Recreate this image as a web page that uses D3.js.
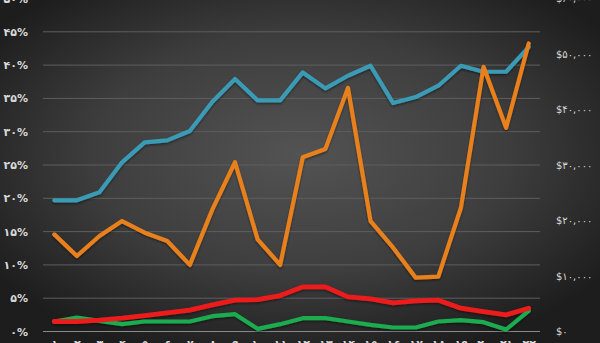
<!DOCTYPE html>
<html>
<head>
<meta charset="utf-8">
<script src="https://cdn.jsdelivr.net/npm/d3@7"></script>
<style>
  html, body { margin: 0; padding: 0; background: #222; }
  svg { display: block; }
</style>
</head>
<body>
<svg id="chart" width="600" height="343"></svg>
<script>
const categories = ["۱","۲","۳","۴","۵","۶","۷","۸","۹","۱۰","۱۱","۱۲","۱۳","۱۴","۱۵","۱۶","۱۷","۱۸","۱۹","۲۰","۲۱","۲۲"];
// left axis (percent)
const blueSeries  = [19.7,19.7,20.9,25.4,28.4,28.7,30.1,34.5,37.9,34.7,34.7,38.9,36.5,38.4,39.9,34.3,35.2,36.9,39.9,39.0,39.0,42.7];
const redSeries   = [1.5,1.5,1.7,2.0,2.4,2.8,3.2,4.0,4.7,4.8,5.4,6.7,6.7,5.2,4.9,4.3,4.6,4.7,3.5,3.0,2.5,3.5];
const greenSeries = [1.5,2.1,1.6,1.1,1.5,1.5,1.5,2.3,2.6,0.4,1.1,2.0,2.0,1.5,1.0,0.6,0.6,1.5,1.7,1.4,0.3,3.1];
// right axis (dollars)
const orangeSeries = [17500,13600,17200,19900,17800,16300,12000,22000,30500,16600,12000,31400,32900,43900,19900,15100,9700,9900,22300,47700,36700,51900];

const leftTicks = [0,5,10,15,20,25,30,35,40,45,50];
const rightTicks = [0,10000,20000,30000,40000,50000,60000];

const fa = s => String(s).replace(/\d/g, d => "۰۱۲۳۴۵۶۷۸۹"[+d]);

const svg = d3.select("#chart");
const W = 600, H = 343;
const plot = {left: 43, right: 540, top: -1.5, bottom: 331.5};

// background
const defs = svg.append("defs");
const rg = defs.append("radialGradient").attr("id","bg")
  .attr("cx","50%").attr("cy","45%").attr("r","62%");
rg.append("stop").attr("offset","0%").attr("stop-color","#535353");
rg.append("stop").attr("offset","55%").attr("stop-color","#3e3e3e");
rg.append("stop").attr("offset","100%").attr("stop-color","#1d1d1d");
svg.append("rect").attr("width",W).attr("height",H).attr("fill","url(#bg)");

const filt = defs.append("filter").attr("id","sh").attr("x","-5%").attr("y","-5%").attr("width","110%").attr("height","120%");
filt.append("feDropShadow").attr("dx",0).attr("dy",1.5).attr("stdDeviation",1.2).attr("flood-color","#000").attr("flood-opacity",0.45);

const x = d3.scalePoint().domain(categories).range([plot.left, plot.right]).padding(0.5);
const yL = d3.scaleLinear().domain([0,50]).range([plot.bottom, plot.top]);
const yR = d3.scaleLinear().domain([0,60000]).range([plot.bottom, plot.top]);

// gridlines
svg.append("g").selectAll("line").data(leftTicks.filter(d => d > 0)).join("line")
  .attr("x1", plot.left).attr("x2", plot.right)
  .attr("y1", d => yL(d)).attr("y2", d => yL(d))
  .attr("stroke", "#5e5e5e").attr("stroke-width", 1);
svg.append("line").attr("x1", plot.left).attr("x2", plot.right)
  .attr("y1", yL(0)).attr("y2", yL(0)).attr("stroke", "#8a8a8a").attr("stroke-width", 1.2);

// axes
const axL = svg.append("g").attr("transform", `translate(${plot.left},0)`)
  .call(d3.axisLeft(yL).tickValues(leftTicks).tickSize(0).tickPadding(15).tickFormat(d => fa(d) + "%"));
axL.select(".domain").remove();
const axR = svg.append("g").attr("transform", `translate(${plot.right},0)`)
  .call(d3.axisRight(yR).tickValues(rightTicks).tickSize(0).tickPadding(16).tickFormat(d => "$" + fa(d3.format(",")(d))));
axR.select(".domain").remove();
const axB = svg.append("g").attr("transform", `translate(0,${plot.bottom})`)
  .call(d3.axisBottom(x).tickSize(0).tickPadding(9));
axB.select(".domain").remove();
svg.selectAll(".tick text").attr("fill", "#d8d8d8")
  .attr("font-family", "'DejaVu Sans', sans-serif").attr("font-weight", "bold").attr("font-size", 11);
axR.selectAll(".tick text").attr("font-size", 10).attr("font-weight", "normal");

// lines
const lineL = d3.line().x((d,i) => x(categories[i])).y(d => yL(d));
const lineR = d3.line().x((d,i) => x(categories[i])).y(d => yR(d));
const g = svg.append("g").attr("filter","url(#sh)").attr("fill","none")
  .attr("stroke-width", 4.2).attr("stroke-linejoin","round").attr("stroke-linecap","round");
g.append("path").attr("d", lineL(greenSeries)).attr("stroke", "#1aab4f");
g.append("path").attr("d", lineL(redSeries)).attr("stroke", "#ec1c1c").attr("stroke-width", 4.8);
g.append("path").attr("d", lineL(blueSeries)).attr("stroke", "#3a9ab4");
g.append("path").attr("d", lineR(orangeSeries)).attr("stroke", "#e8801f");
</script>
</body>
</html>
